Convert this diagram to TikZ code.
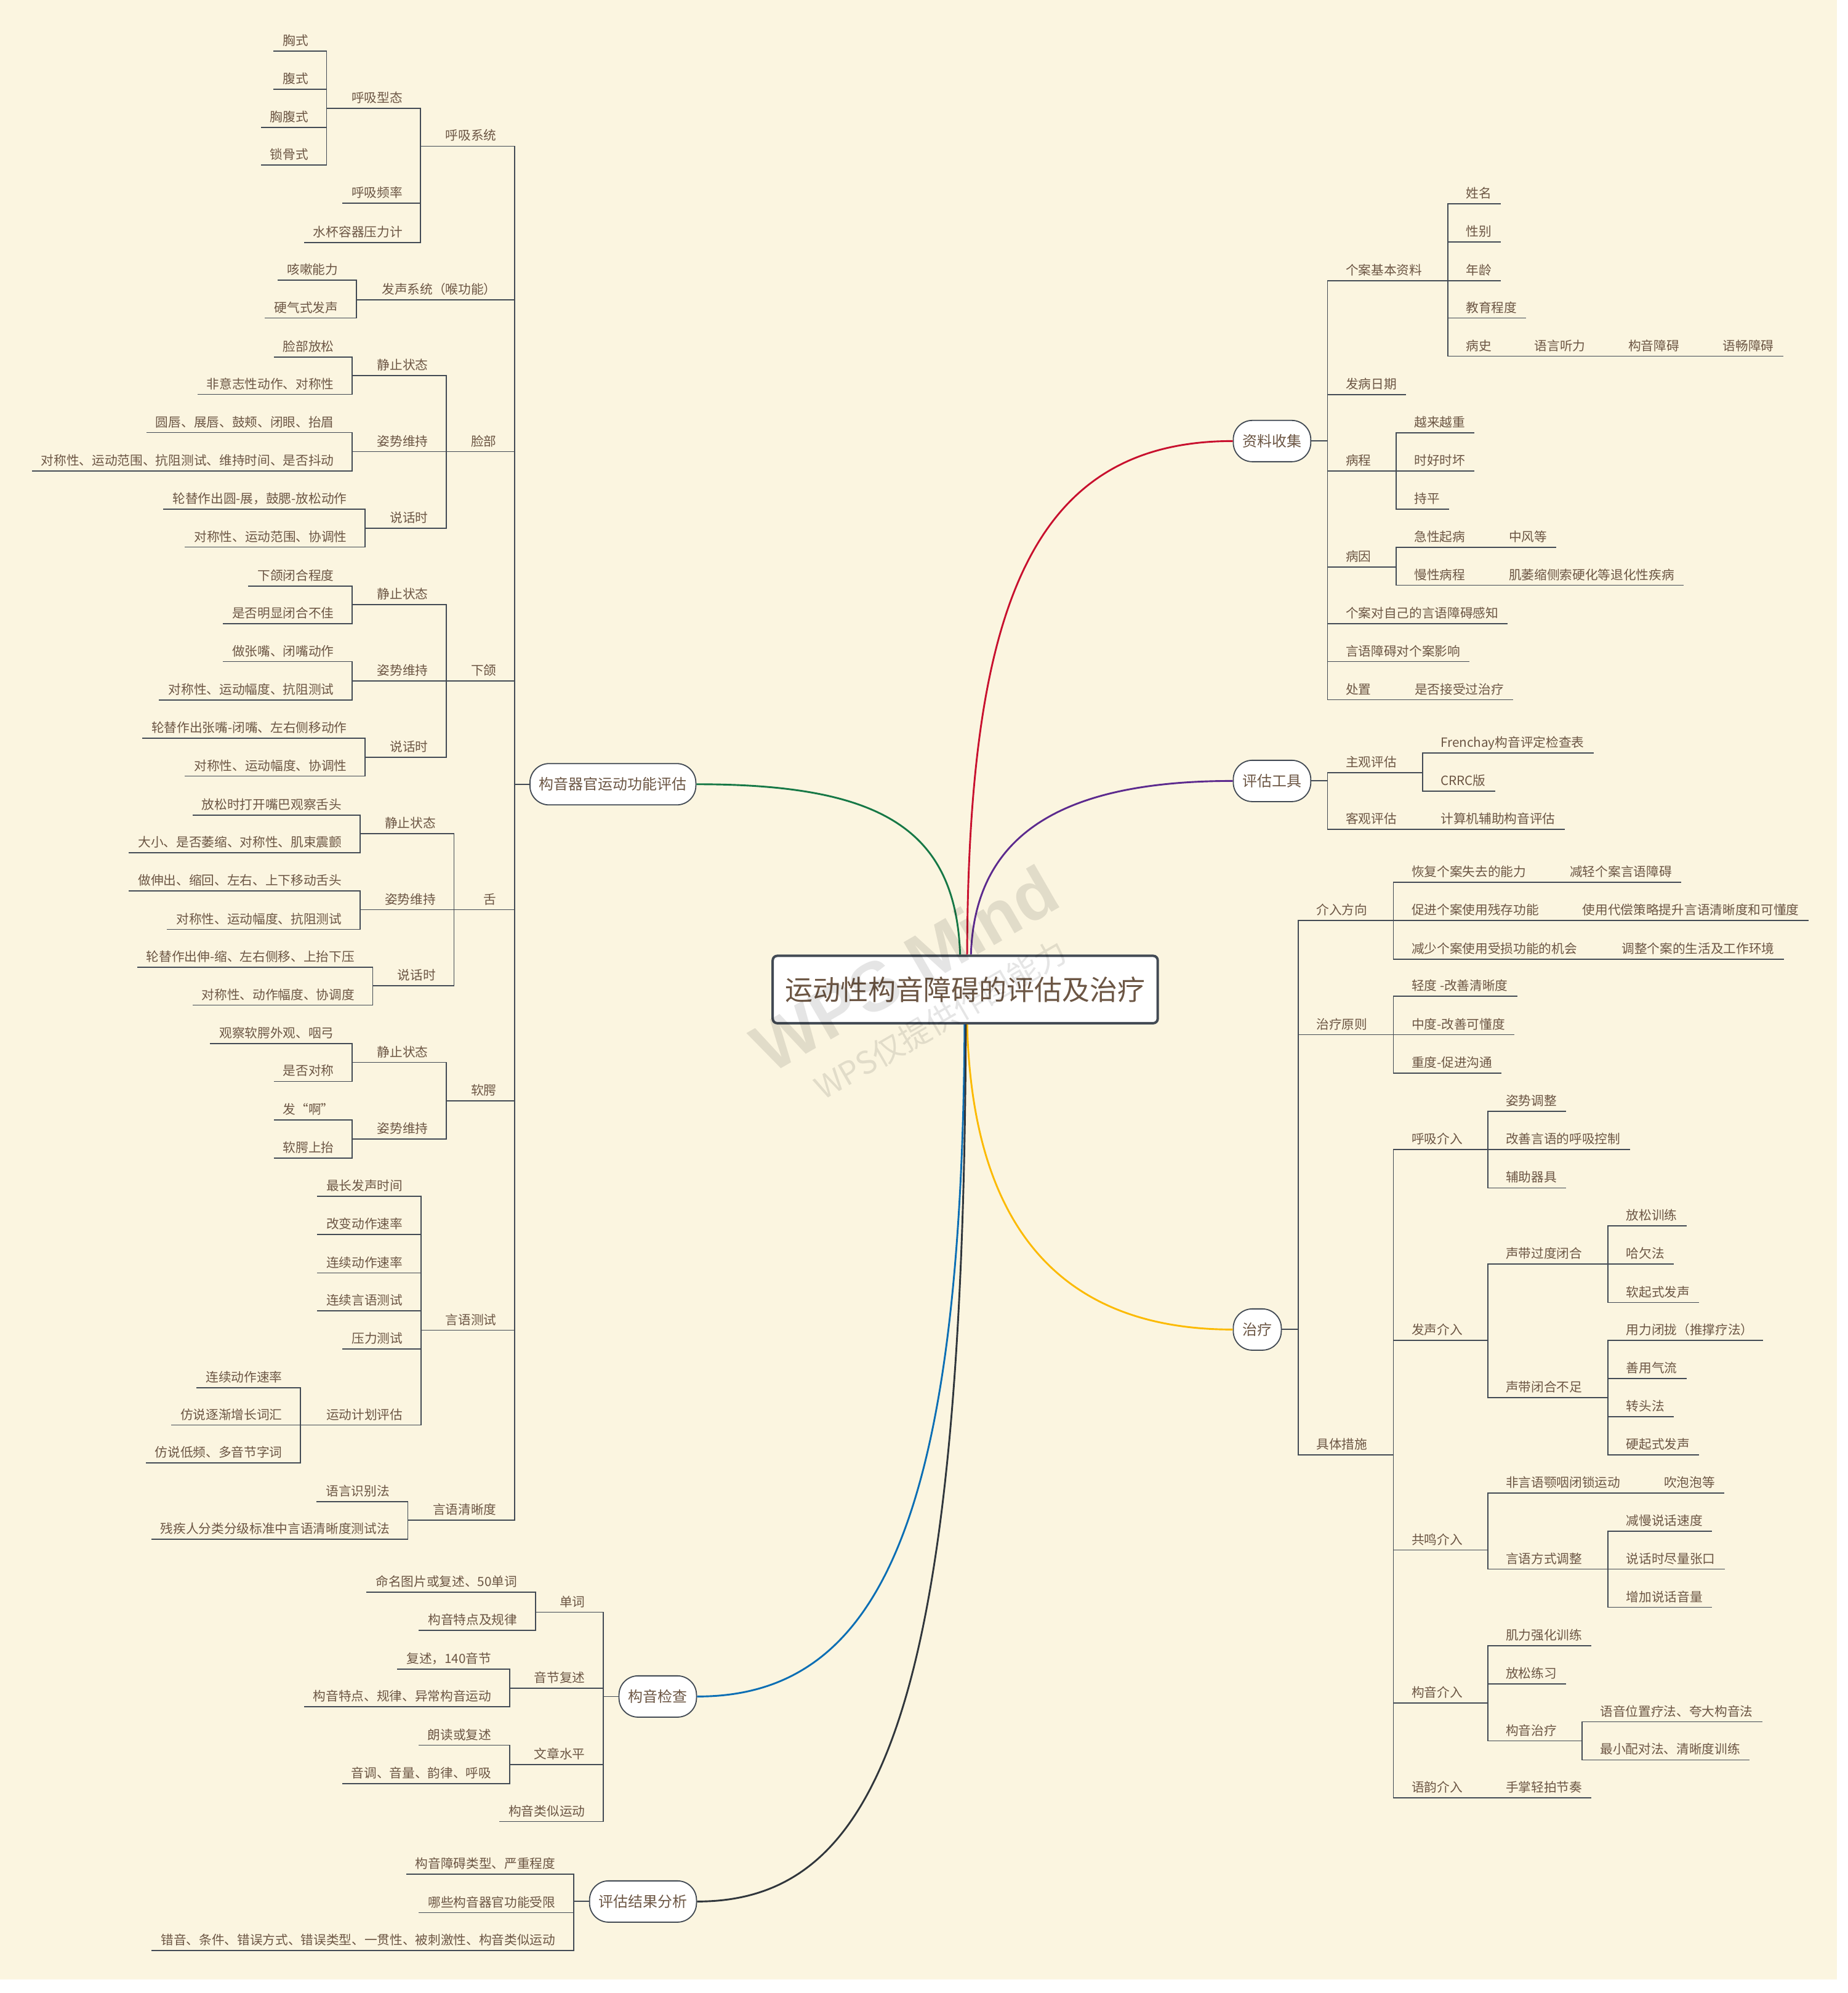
\documentclass[tikz,border=0pt]{standalone}
\usepackage{fontspec}
\setmainfont{Noto Sans CJK SC}
\newfontfamily\wmfont{Liberation Sans}
\definecolor{bg}{RGB}{251,245,224}
\definecolor{txt}{RGB}{108,86,68}
\definecolor{edge}{RGB}{66,74,84}
\definecolor{cred}{RGB}{200,16,46}
\definecolor{cpur}{RGB}{92,42,142}
\definecolor{cgrn}{RGB}{22,120,70}
\definecolor{corg}{RGB}{252,186,0}
\definecolor{cblu}{RGB}{10,110,180}
\definecolor{cdrk}{RGB}{48,54,60}
\tikzset{
  lf/.style   = {anchor=south east, text=txt, font=\fontsize{5.7}{7}\selectfont,
                 inner xsep=1.4mm, inner ysep=2.4pt, text depth=0pt},
  rt/.style   = {lf, anchor=south west},
  pill/.style = {draw=edge, line width=0.5pt, fill=white, rounded corners=3mm,
                 text=txt, font=\fontsize{6.6}{8}\selectfont,
                 inner xsep=1.46mm, minimum height=6.5mm},
  hub/.style  = {draw=edge, line width=1.1pt, fill=white, rounded corners=2pt,
                 text=txt, font=\fontsize{12.4}{15}\selectfont,
                 minimum width=6.06cm, minimum height=1.06cm},
  ln/.style   = {draw=edge, line width=0.5pt},
  br/.style   = {line width=0.8pt},
  wm/.style   = {text=black, text opacity=0.1, rotate=30, inner sep=0pt},
}
\begin{document}
\begin{tikzpicture}[x=0.02cm, y=-0.02cm]
\useasboundingbox (0,0) rectangle (1454,1568);
\fill[white] (0,0) rectangle (1454,1568);
\fill[bg] (0,0) rectangle (1445.3,1557.2);

\node[hub] (root) at (759.5,778.5) {运动性构音障碍的评估及治疗};

% left: 构音器官运动功能评估
\node[pill, anchor=east] (gq) at (548,617) {构音器官运动功能评估};
\node[lf] (hx)  at (398,115)    {呼吸系统};
\node[lf] (fs)  at (398,235.8)  {发声系统（喉功能）};
\node[lf] (lb)  at (398,355.3)  {脸部};
\node[lf] (xh)  at (398,535.8)  {下颌};
\node[lf] (she) at (398,715.7)  {舌};
\node[lf] (re)  at (398,866)    {软腭};
\node[lf] (yc)  at (398,1046.5) {言语测试};
\node[lf] (qx)  at (398,1196)   {言语清晰度};

\node[lf] (hxxt) at (324,85.4)  {呼吸型态};
\node[lf] (hxpl) at (324,160)   {呼吸频率};
\node[lf] (sbyq) at (324,190.7) {水杯容器压力计};
\node[lf] (xs)  at (250,40.3)  {胸式};
\node[lf] (fus) at (250,70.3)  {腹式};
\node[lf] (xfs) at (250,100.3) {胸腹式};
\node[lf] (sgs) at (250,130)   {锁骨式};

\node[lf] (ks) at (273.3,220.5) {咳嗽能力};
\node[lf] (yq) at (273.3,250.2) {硬气式发声};

\node[lf] (lbjz) at (344.3,295.3) {静止状态};
\node[lf] (lbzs) at (344.3,355.3) {姿势维持};
\node[lf] (lbsh) at (344.3,415.7) {说话时};
\node[lf] (lbfs) at (270.1,280.8) {脸部放松};
\node[lf] (lbfy) at (270.1,310.3) {非意志性动作、对称性};
\node[lf] (lbyc) at (270.1,340.3) {圆唇、展唇、鼓颊、闭眼、抬眉};
\node[lf] (lbdc) at (270.1,370.6) {对称性、运动范围、抗阻测试、维持时间、是否抖动};
\node[lf] (lblt) at (280.3,400.7) {轮替作出圆-展，鼓腮-放松动作};
\node[lf] (lbxt) at (280.3,430.4) {对称性、运动范围、协调性};

\node[lf] (xhjz) at (344.3,475.7) {静止状态};
\node[lf] (xhzs) at (344.3,535.8) {姿势维持};
\node[lf] (xhsh) at (344.3,595.9) {说话时};
\node[lf] (xhbh) at (270.1,461)   {下颌闭合程度};
\node[lf] (xhbj) at (270.1,490.5) {是否明显闭合不佳};
\node[lf] (xhzz) at (270.1,520.5) {做张嘴、闭嘴动作};
\node[lf] (xhdc) at (270.1,550.8) {对称性、运动幅度、抗阻测试};
\node[lf] (xhlt) at (280.3,580.8) {轮替作出张嘴-闭嘴、左右侧移动作};
\node[lf] (xhxt) at (280.3,610.6) {对称性、运动幅度、协调性};

\node[lf] (shjz) at (350.2,655.9) {静止状态};
\node[lf] (shzs) at (350.2,715.7) {姿势维持};
\node[lf] (shsh) at (350.2,775.7) {说话时};
\node[lf] (shgc) at (276.3,641.2) {放松时打开嘴巴观察舌头};
\node[lf] (shdx) at (276.3,670.9) {大小、是否萎缩、对称性、肌束震颤};
\node[lf] (shsc) at (276.3,701)   {做伸出、缩回、左右、上下移动舌头};
\node[lf] (shdc) at (276.3,731.2) {对称性、运动幅度、抗阻测试};
\node[lf] (shlt) at (286.3,761)   {轮替作出伸-缩、左右侧移、上抬下压};
\node[lf] (shxt) at (286.3,790.8) {对称性、动作幅度、协调度};

\node[lf] (rejz) at (344.3,835.8) {静止状态};
\node[lf] (rezs) at (344.3,896)   {姿势维持};
\node[lf] (rewg) at (270.1,821.1) {观察软腭外观、咽弓};
\node[lf] (redc) at (270.1,850.8) {是否对称};
\node[lf] (rea)  at (270.1,881.1) {发“啊”};
\node[lf] (rets) at (270.1,911.3) {软腭上抬};

\node[lf] (zc) at (324.2,941.2)  {最长发声时间};
\node[lf] (gb) at (324.2,971.1)  {改变动作速率};
\node[lf] (lx) at (324.2,1001.5) {连续动作速率};
\node[lf] (ly) at (324.2,1031.1) {连续言语测试};
\node[lf] (yl) at (324.2,1061.3) {压力测试};
\node[lf] (jh) at (324.2,1121.1) {运动计划评估};
\node[lf] (jhlx) at (229.5,1091.7) {连续动作速率};
\node[lf] (jhfs) at (229.5,1121.1) {仿说逐渐增长词汇};
\node[lf] (jhdp) at (229.5,1151)   {仿说低频、多音节字词};

\node[lf] (sb) at (313.9,1181.6) {语言识别法};
\node[lf] (cj) at (313.9,1210.8) {残疾人分类分级标准中言语清晰度测试法};

% left: 构音检查
\node[pill, anchor=east] (gyjc) at (548.5,1334.7) {构音检查};
\node[lf] (dc) at (467.7,1268.4) {单词};
\node[lf] (yj) at (467.7,1328.2) {音节复述};
\node[lf] (wz) at (467.7,1388.1) {文章水平};
\node[lf] (ls) at (467.7,1433.1) {构音类似运动};
\node[lf] (dcmm) at (414.3,1252.7) {命名图片或复述、50单词};
\node[lf] (dctd) at (414.3,1282.6) {构音特点及规律};
\node[lf] (yjfs) at (394,1313.1) {复述，140音节};
\node[lf] (yjtd) at (394,1342.8) {构音特点、规律、异常构音运动};
\node[lf] (wzld) at (394,1373)   {朗读或复述};
\node[lf] (wzyd) at (394,1403.3) {音调、音量、韵律、呼吸};

% left: 评估结果分析
\node[pill, anchor=east] (pgjg) at (548.5,1496) {评估结果分析};
\node[lf] (lxcd) at (444.4,1474.4) {构音障碍类型、严重程度};
\node[lf] (sx)   at (444.4,1504.8) {哪些构音器官功能受限};
\node[lf] (cy)   at (444.4,1534.5) {错音、条件、错误方式、错误类型、一贯性、被刺激性、构音类似运动};

% right: 资料收集
\node[pill, anchor=west] (zlsj) at (970,347) {资料收集};
\node[rt] (gj)   at (1051.6,220.8) {个案基本资料};
\node[rt] (fbrq) at (1051.6,310.5) {发病日期};
\node[rt] (bc)   at (1051.6,370.6) {病程};
\node[rt] (by)   at (1051.6,446)   {病因};
\node[rt] (gz)   at (1051.6,490.7) {个案对自己的言语障碍感知};
\node[rt] (yx)   at (1051.6,520.5) {言语障碍对个案影响};
\node[rt] (cz)   at (1051.6,550.5) {处置};
\node[rt] (xm) at (1146.2,160.4) {姓名};
\node[rt] (xb) at (1146.2,190.4) {性别};
\node[rt] (nl) at (1146.2,220.8) {年龄};
\node[rt] (jy) at (1146.2,250.2) {教育程度};
\node[rt] (bs) at (1146.2,280.2) {病史};
\node[rt] (yyt)  at (1200.2,280.2) {语言听力};
\node[rt] (gyza) at (1274,280.2)   {构音障碍};
\node[rt] (ycza) at (1348.3,280.2) {语畅障碍};
\node[rt] (ylyz) at (1105.5,340.6) {越来越重};
\node[rt] (hshh) at (1105.5,370.6) {时好时坏};
\node[rt] (cp)   at (1105.5,400.7) {持平};
\node[rt] (jx) at (1105.5,430.7) {急性起病};
\node[rt] (mx) at (1105.5,460.4) {慢性病程};
\node[rt] (zf) at (1180,430.7) {中风等};
\node[rt] (jw) at (1180,460.4) {肌萎缩侧索硬化等退化性疾病};
\node[rt] (sfjs) at (1105.8,550.5) {是否接受过治疗};

% right: 评估工具
\node[pill, anchor=west] (pggj) at (970,614.4) {评估工具};
\node[rt] (zg) at (1051.6,607.9) {主观评估};
\node[rt] (kg) at (1051.6,652.6) {客观评估};
\node[rt] (fr)   at (1126.3,592.4) {Frenchay构音评定检查表};
\node[rt] (crrc) at (1126.3,622.3) {CRRC版};
\node[rt] (jsj)  at (1126.3,652.6) {计算机辅助构音评估};

% right: 治疗
\node[pill, anchor=west] (zl) at (970,1046) {治疗};
\node[rt] (jr) at (1028.5,724.1)  {介入方向};
\node[rt] (yz) at (1028.5,814)    {治疗原则};
\node[rt] (cs) at (1028.5,1144.5) {具体措施};
\node[rt] (hf)   at (1103.4,694.2) {恢复个案失去的能力};
\node[rt] (cjsy) at (1103.4,724.1) {促进个案使用残存功能};
\node[rt] (js)   at (1103.4,754.5) {减少个案使用受损功能的机会};
\node[rt] (jq)  at (1228,694.2)   {减轻个案言语障碍};
\node[rt] (dcc) at (1238,724.1)   {使用代偿策略提升言语清晰度和可懂度};
\node[rt] (tz)  at (1268.8,754.5) {调整个案的生活及工作环境};
\node[rt] (qd)  at (1103.4,783.9) {轻度 -改善清晰度};
\node[rt] (zd)  at (1103.4,814)   {中度-改善可懂度};
\node[rt] (zhd) at (1103.4,844.4) {重度-促进沟通};
\node[rt] (hxjr) at (1103.4,904.2)  {呼吸介入};
\node[rt] (fsjr) at (1103.4,1054.7) {发声介入};
\node[rt] (gmjr) at (1103.4,1219.5) {共鸣介入};
\node[rt] (gyjr) at (1103.4,1339.9) {构音介入};
\node[rt] (yyjr) at (1103.4,1414.3) {语韵介入};
\node[rt] (zstz) at (1177.6,874.3) {姿势调整};
\node[rt] (gskz) at (1177.6,904.2) {改善言语的呼吸控制};
\node[rt] (fzqj) at (1177.6,934.6) {辅助器具};
\node[rt] (gdbh) at (1177.6,994.3)  {声带过度闭合};
\node[rt] (bhbz) at (1177.6,1099.4) {声带闭合不足};
\node[rt] (fsxl) at (1272.3,964.3)  {放松训练};
\node[rt] (hqf)  at (1272.3,994.3)  {哈欠法};
\node[rt] (rqs)  at (1272.3,1024.7) {软起式发声};
\node[rt] (ylbl) at (1272.3,1054.7) {用力闭拢（推撑疗法）};
\node[rt] (syql) at (1272.3,1084.4) {善用气流};
\node[rt] (ztf)  at (1272.3,1114.4) {转头法};
\node[rt] (yqs)  at (1272.3,1144.5) {硬起式发声};
\node[rt] (fyy)  at (1177.6,1174.5) {非言语颚咽闭锁运动};
\node[rt] (fstz) at (1177.6,1234.5) {言语方式调整};
\node[rt] (cpp)  at (1302,1174.5)   {吹泡泡等};
\node[rt] (jm) at (1272.3,1204.8) {减慢说话速度};
\node[rt] (zk) at (1272.3,1234.5) {说话时尽量张口};
\node[rt] (zj) at (1272.3,1264.5) {增加说话音量};
\node[rt] (jl)   at (1177.6,1294.9) {肌力强化训练};
\node[rt] (fslx) at (1177.6,1324.9) {放松练习};
\node[rt] (gyzl) at (1177.6,1369.6) {构音治疗};
\node[rt] (yywz) at (1251.8,1354.6) {语音位置疗法、夸大构音法};
\node[rt] (zxpd) at (1251.8,1384.6) {最小配对法、清晰度训练};
\node[rt] (szqp) at (1177.6,1414.3) {手掌轻拍节奏};

% branches from the centre
\draw[br, cred] ([xshift=0.03cm]root.north) .. controls (762,480) and (810,347) .. (zlsj.west);
\draw[br, cpur] ([xshift=0.09cm]root.north) .. controls (767,660) and (830,614.4) .. (pggj.west);
\draw[br, cgrn] ([xshift=-0.08cm]root.north) .. controls (752,650) and (690,617) .. (gq.east);
\draw[br, corg] ([xshift=0.03cm]root.south) .. controls (765,960) and (830,1046) .. (zl.west);
\draw[br, cblu] ([xshift=-0.01cm]root.south) .. controls (757,1200) and (690,1335) .. (gyjc.east);
\draw[br, cdrk] ([xshift=0.01cm]root.south) .. controls (758,1350) and (690,1496) .. (pgjg.east);

% left links
\foreach \c in {hx,fs,lb,xh,she,re,yc,qx}
  \draw[ln] (gq.west) -| ([xshift=1.4mm]\c.south east) -- (\c.south west);
\foreach \p/\c in {hx/hxxt,hx/hxpl,hx/sbyq,hxxt/xs,hxxt/fus,hxxt/xfs,hxxt/sgs,
    fs/ks,fs/yq,lb/lbjz,lb/lbzs,lb/lbsh,lbjz/lbfs,lbjz/lbfy,lbzs/lbyc,lbzs/lbdc,
    lbsh/lblt,lbsh/lbxt,xh/xhjz,xh/xhzs,xh/xhsh,xhjz/xhbh,xhjz/xhbj,xhzs/xhzz,
    xhzs/xhdc,xhsh/xhlt,xhsh/xhxt,she/shjz,she/shzs,she/shsh,shjz/shgc,shjz/shdx,
    shzs/shsc,shzs/shdc,shsh/shlt,shsh/shxt,re/rejz,re/rezs,rejz/rewg,rejz/redc,
    rezs/rea,rezs/rets,yc/zc,yc/gb,yc/lx,yc/ly,yc/yl,yc/jh,jh/jhlx,jh/jhfs,
    jh/jhdp,qx/sb,qx/cj,dc/dcmm,dc/dctd,yj/yjfs,yj/yjtd,wz/wzld,wz/wzyd}
  \draw[ln] (\p.south west) -| ([xshift=1.4mm]\c.south east) -- (\c.south west);
\foreach \c in {dc,yj,wz,ls}
  \draw[ln] (gyjc.west) -| ([xshift=1.4mm]\c.south east) -- (\c.south west);
\foreach \c in {lxcd,sx,cy}
  \draw[ln] (pgjg.west) -| ([xshift=1.4mm]\c.south east) -- (\c.south west);

% right links
\foreach \c in {gj,fbrq,bc,by,gz,yx,cz}
  \draw[ln] (zlsj.east) -| ([xshift=-1.4mm]\c.south west) -- (\c.south east);
\foreach \c in {zg,kg}
  \draw[ln] (pggj.east) -| ([xshift=-1.4mm]\c.south west) -- (\c.south east);
\foreach \c in {jr,yz,cs}
  \draw[ln] (zl.east) -| ([xshift=-1.4mm]\c.south west) -- (\c.south east);
\foreach \p/\c in {gj/xm,gj/xb,gj/nl,gj/jy,gj/bs,bs/yyt,yyt/gyza,gyza/ycza,
    bc/ylyz,bc/hshh,bc/cp,by/jx,by/mx,jx/zf,mx/jw,cz/sfjs,zg/fr,zg/crrc,kg/jsj,
    jr/hf,jr/cjsy,jr/js,hf/jq,cjsy/dcc,js/tz,yz/qd,yz/zd,yz/zhd,
    cs/hxjr,cs/fsjr,cs/gmjr,cs/gyjr,cs/yyjr,hxjr/zstz,hxjr/gskz,hxjr/fzqj,
    fsjr/gdbh,fsjr/bhbz,gdbh/fsxl,gdbh/hqf,gdbh/rqs,bhbz/ylbl,bhbz/syql,
    bhbz/ztf,bhbz/yqs,gmjr/fyy,gmjr/fstz,fyy/cpp,fstz/jm,fstz/zk,fstz/zj,
    gyjr/jl,gyjr/fslx,gyjr/gyzl,gyzl/yywz,gyzl/zxpd,yyjr/szqp}
  \draw[ln] (\p.south east) -| ([xshift=-1.4mm]\c.south west) -- (\c.south east);

% watermark
\node[wm, font=\wmfont\bfseries\fontsize{31}{36}\selectfont] (wpsm) at (712,762) {WPS Mind};
\node[wm, font=\fontsize{14}{17}\selectfont] (wpst) at (740,802) {WPS仅提供作图能力};
\end{tikzpicture}
\end{document}
